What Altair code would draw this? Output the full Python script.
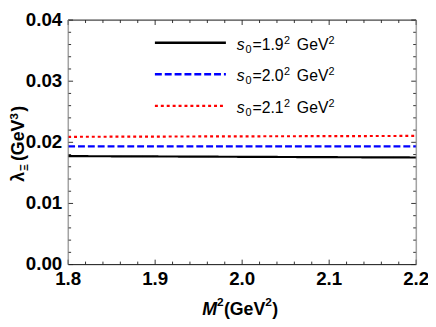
import altair as alt
import pandas as pd

# ---- data ----
M2 = [1.8, 1.9, 2.0, 2.1, 2.2]
lam_19 = [0.01774, 0.01769, 0.01763, 0.01757, 0.01752]
lam_20 = [0.01935, 0.01935, 0.01935, 0.01935, 0.01935]
lam_21 = [0.02090, 0.02094, 0.02098, 0.02101, 0.02105]
series = ["1.9", "2.0", "2.1"]
colors = ["#000000", "#0000ff", "#ff0000"]
dashes = [[1, 0], [7, 3], [3, 3]]

x_major = [1.8, 1.9, 2.0, 2.1, 2.2]
x_labels = ["1.8", "1.9", "2.0", "2.1", "2.2"]
x_minor = [1.82, 1.84, 1.86, 1.88, 1.92, 1.94, 1.96, 1.98,
           2.02, 2.04, 2.06, 2.08, 2.12, 2.14, 2.16, 2.18]
y_major = [0.0, 0.01, 0.02, 0.03, 0.04]
y_labels = ["0.00", "0.01", "0.02", "0.03", "0.04"]
y_minor = [0.002, 0.004, 0.006, 0.008, 0.012, 0.014, 0.016, 0.018,
           0.022, 0.024, 0.026, 0.028, 0.032, 0.034, 0.036, 0.038]

rows = []
for s, vals in zip(series, [lam_19, lam_20, lam_21]):
    for m, v in zip(M2, vals):
        rows.append({"M2": m, "lam": v, "s0": s})
df = pd.DataFrame(rows)

W, H = 353, 248
TOP = 10  # top padding so the top tick label is not cut
TICK_FONT = "Liberation Sans Narrow, Liberation Sans, Arial"
TEXT_FONT = "Liberation Sans, Arial"
FRAME_DARK = "#222222"
FRAME_GRAY = "#808080"

xs = alt.Scale(domain=[1.8, 2.2], nice=False, zero=False)
ys = alt.Scale(domain=[0.0, 0.04], nice=False, zero=True)

lines = alt.Chart(df).mark_line(strokeWidth=2.2).encode(
    x=alt.X("M2:Q", scale=xs, axis=None),
    y=alt.Y("lam:Q", scale=ys, axis=None),
    color=alt.Color("s0:N", scale=alt.Scale(domain=series, range=colors), legend=None),
    strokeDash=alt.StrokeDash("s0:N", scale=alt.Scale(domain=series, range=dashes), legend=None),
)

def xticks(vals, length, top):
    y0, y1 = (0, length) if top else (H, H - length)
    return alt.Chart(pd.DataFrame({"t": vals})).mark_rule(color="#333", strokeWidth=1).encode(
        x=alt.X("t:Q", scale=xs, axis=None), y=alt.value(y0), y2=alt.value(y1))

def yticks(vals, length, right):
    x0, x1 = (W, W - length) if right else (0, length)
    return alt.Chart(pd.DataFrame({"t": vals})).mark_rule(color="#333", strokeWidth=1).encode(
        y=alt.Y("t:Q", scale=ys, axis=None), x=alt.value(x0), x2=alt.value(x1))

xlab = alt.Chart(pd.DataFrame({"t": x_major, "l": x_labels})).mark_text(
    align="center", baseline="top", font=TICK_FONT, fontSize=19, fontWeight="bold",
    color="#000").encode(x=alt.X("t:Q", scale=xs, axis=None), y=alt.value(H + 6), text="l:N")
ylab = alt.Chart(pd.DataFrame({"t": y_major, "l": y_labels})).mark_text(
    align="right", baseline="middle", font=TICK_FONT, fontSize=19, fontWeight="bold",
    color="#000").encode(y=alt.Y("t:Q", scale=ys, axis=None), x=alt.value(-6), text="l:N")

one = pd.DataFrame({"k": [0]})
frame = [
    alt.Chart(one).mark_rule(color=FRAME_DARK).encode(x=alt.value(0), x2=alt.value(W), y=alt.value(0)),
    alt.Chart(one).mark_rule(color=FRAME_DARK).encode(x=alt.value(0), x2=alt.value(W), y=alt.value(H)),
    alt.Chart(one).mark_rule(color=FRAME_GRAY).encode(x=alt.value(0), y=alt.value(0), y2=alt.value(H)),
    alt.Chart(one).mark_rule(color=FRAME_GRAY).encode(x=alt.value(W), y=alt.value(0), y2=alt.value(H)),
]

def txt(s, x, y, size, weight="normal", style="normal", angle=0, font=TEXT_FONT):
    return alt.Chart(pd.DataFrame({"s": [s]})).mark_text(
        align="left", baseline="alphabetic", fontSize=size, fontWeight=weight,
        fontStyle=style, angle=angle, font=font, color="#000").encode(
        text="s:N", x=alt.value(x), y=alt.value(y - TOP))

# x title  M^2(GeV^2)   (y given in page-aligned coords, shifted by TOP)
xt = [
    txt("M", 136, 309, 18, "bold", "italic"),
    txt("2", 151, 300, 12, "bold"),
    txt("(GeV", 158, 309, 18, "bold"),
    txt("2", 200, 300, 12, "bold"),
    txt(")", 207, 309, 18, "bold"),
]
# y title  lambda_Xi (GeV^3), rotated, reading upward
yt = [
    txt("λ", -45, 174, 18, "bold", angle=270),
    txt("Ξ", -41, 163, 11, "bold", angle=270),
    txt("(GeV", -45, 153, 18, "bold", angle=270),
    txt("3", -51, 111, 12, "bold", angle=270),
    txt(")", -45, 103, 18, "bold", angle=270),
]

# legend
leg_rows = [33, 65, 97]
legend_layers = []
for s, c, d, ry in zip(series, colors, dashes, leg_rows):
    legend_layers.append(alt.Chart(one).mark_rule(color=c, strokeWidth=2.4, strokeDash=d).encode(
        x=alt.value(88), x2=alt.value(160), y=alt.value(ry - TOP)))
    legend_layers += [
        txt("s", 171, ry + 7, 16, style="italic"),
        txt("0", 180, ry + 10, 11),
        txt("=" + s, 187, ry + 7, 16),
        txt("2", 219, ry + 1, 11),
        txt("GeV", 232, ry + 7, 16),
        txt("2", 264, ry + 1, 11),
    ]

chart = alt.layer(
    lines,
    xticks(x_major, 5, False), xticks(x_minor, 3, False),
    xticks(x_major, 5, True), xticks(x_minor, 3, True),
    yticks(y_major, 5, False), yticks(y_minor, 3, False),
    yticks(y_major, 5, True), yticks(y_minor, 3, True),
    *frame, xlab, ylab,
    *xt, *yt, *legend_layers,
).properties(
    width=W, height=H,
    autosize=alt.AutoSizeParams(type="none"),
    padding={"left": 61, "top": TOP, "right": 12, "bottom": 56},
).configure_view(stroke=None).configure(background="white")

chart.save("out.html", embed_options={"renderer": "svg", "actions": False})
